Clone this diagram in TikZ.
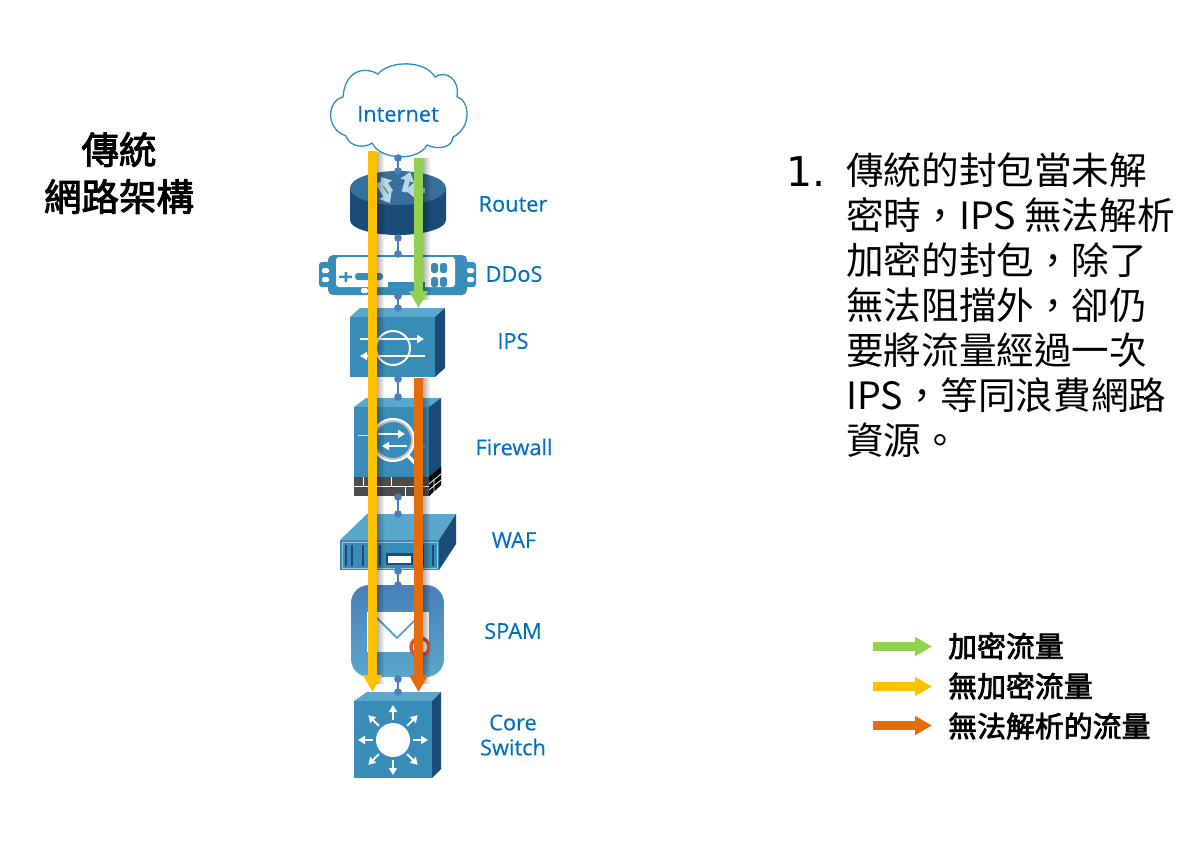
\documentclass[tikz,border=0pt]{standalone}
\usepackage{fontspec}
\setmainfont[FakeBold=0.25]{Open Sans}
\newfontfamily\cjkfont{Noto Sans CJK TC}
\newfontfamily\cjkmedium[FakeBold=2.6]{Noto Sans CJK TC}
\newfontfamily\numfont{DejaVu Sans}
\usetikzlibrary{arrows.meta,fadings,calc}
\definecolor{labelblue}{HTML}{0070C0}
\definecolor{cloudline}{HTML}{2A8FC5}
\definecolor{devfront}{HTML}{388DB8}
\definecolor{devtop}{HTML}{5BA7CC}
\definecolor{devside}{HTML}{1B4B78}
\definecolor{linkblue}{HTML}{4A7EBB}
\definecolor{greenflow}{HTML}{92D050}
\definecolor{yellowflow}{HTML}{FFC000}
\definecolor{orangeflow}{HTML}{E46C0A}
\definecolor{ringred}{HTML}{C9573D}
\tikzset{
  devlabel/.style={text=labelblue,font=\fontsize{21.8}{25}\selectfont,align=center,inner sep=0pt},
  link/.style={draw=linkblue,line width=1.6pt,shorten <=-3.75pt,shorten >=-3.75pt,{Circle[length=7.5pt,width=7.5pt]}-{Circle[length=7.5pt,width=7.5pt]}},
  flow/.style={line width=9pt,-{Triangle[length=17pt,width=18pt]}},
  keytext/.style={font=\cjkmedium\fontsize{28.9}{32}\selectfont,anchor=west,inner sep=0pt},
  whitearrow/.style={white,line width=2pt,-{Triangle[length=7pt,width=8pt]}},
  routerarrow/.style={white!65!devfront,line width=5pt,-{Triangle[length=9pt,width=14pt]}},
}
\begin{document}
\begin{tikzpicture}[x=1pt,y=-1pt,line join=round]
  \useasboundingbox[fill=white] (0,0) rectangle (1197,844);
  % title
  \node[font=\cjkmedium\fontsize{37.5}{47}\selectfont,align=center,inner sep=0pt] (title) at (119,173) {傳統\\網路架構};
  % cloud
  \draw[cloudline,line width=1.3pt,fill=white] (343,97) .. controls (328,100) and (324,128) .. (346,136)
    .. controls (350,148) and (366,148) .. (372,143)
    .. controls (380,160) and (418,162) .. (427,145)
    .. controls (438,150) and (452,148) .. (453,137)
    .. controls (472,128) and (470,100) .. (457,97)
    .. controls (460,78) and (445,70) .. (435,77)
    .. controls (425,60) and (390,60) .. (378,74)
    .. controls (365,66) and (345,70) .. (343,97) -- cycle;
  \node[devlabel] (internet) at (398,114) {Internet};
  % router
  \fill[devside] (350,188) -- (350,220) arc[x radius=48,y radius=15,start angle=180,end angle=0] -- (446,188) -- cycle;
  \fill[devtop!40!devside] (398,188) ellipse[x radius=48,y radius=17];
  \draw[routerarrow] (378,183) -- (390,203);
  \draw[routerarrow] (391,192) -- (381,177);
  \draw[routerarrow] (404,192) -- (410,172);
  \draw[routerarrow] (425,190) -- (405,190);
  % ddos
  \fill[devfront,rounded corners=3pt] (319,262) rectangle (476,287);
  \fill[devfront,rounded corners=5pt] (328,255) rectangle (467,295);
  \fill[white,rounded corners=3pt] (336,257) rectangle (455,287);
  \fill[devfront] (388,282) rectangle (425,288);
  \fill[white,rounded corners=1.5pt] (361,288) rectangle (368,293);
  \foreach \x/\y in {322/268,322/277,467/268,467/277}
    \fill[white,rounded corners=1.5pt] (\x,\y) rectangle +(7,5);
  \fill[devfront] (339,275.5) rectangle (352,278) (344.5,272) rectangle (347,282);
  \fill[devfront,rounded corners=3pt] (355,273) rectangle (383,280);
  \foreach \x/\y in {431/263,440/263,431/277,440/277}
    \fill[devfront,rounded corners=2.5pt] (\x,\y) rectangle +(7,10);
  % ips
  \fill[devtop] (350,317) -- (360,308) -- (445,308) -- (435,317) -- cycle;
  \fill[devside] (435,317) -- (445,308) -- (445,368) -- (435,377) -- cycle;
  \fill[devfront] (350,317) rectangle (435,377);
  \draw[white,line width=2pt] (393,348) circle[radius=17];
  \draw[whitearrow] (360,339) -- (424,339);
  \draw[whitearrow] (425,356) -- (360,356);
  % firewall
  \fill[devtop] (354,407) -- (366,398) -- (441,398) -- (429,407) -- cycle;
  \fill[devside] (429,407) -- (441,398) -- (441,485) -- (429,496) -- cycle;
  \fill[devfront] (354,407) rectangle (429,477);
  \fill[black] (429,477) -- (441,467) -- (441,485) -- (429,496) -- cycle;
  \draw[white,line width=.8pt] (429,484) -- (441,474) (429,490) -- (441,480) (434,479) -- (434,492);
  \fill[black!70] (354,477) rectangle (429,496);
  \draw[white,line width=1pt] (354,486.5) -- (429,486.5) (363,477) -- (363,486) (391,477) -- (391,486) (421,477) -- (421,486)
    (376,486) -- (376,496) (405,486) -- (405,496);
  \draw[devtop!30!white,line width=.7pt] (358,435) -- (418,435) (400,446) -- (425,446);
  \draw[black!25,line width=4pt,fill=devfront] (393,440) circle[radius=20];
  \draw[white,line width=2pt] (393,440) circle[radius=21];
  \draw[white,line width=3.5pt] (407,455) -- (417,465);
  \draw[whitearrow] (378,434) -- (405,434);
  \draw[whitearrow] (407,446) -- (382,446);
  % waf
  \fill[devtop] (340,540) -- (367,514) -- (456,514) -- (439,540) -- cycle;
  \fill[devside] (439,540) -- (456,514) -- (456,544) -- (439,570) -- cycle;
  \fill[devfront] (340,540) rectangle (439,570);
  \draw[white!50!devfront,line width=.7pt] (342,542) rectangle (437,568);
  \foreach \x in {346,352,363,380,423,433}
    \draw[devside,line width=2.5pt] (\x,545) -- (\x,566);
  \fill[devside] (386,553) rectangle (413,565);
  \fill[white] (388,556) rectangle (411,563);
  % spam
  \shade[top color=linkblue!90!devfront,bottom color=devtop,rounded corners=18pt] (351,585) rectangle (444,677);
  \fill[white] (367,612) rectangle (429,652);
  \draw[devfront!80!white,line width=2pt] (377,618) -- (397,638) -- (417,618);
  \draw[ringred,line width=3.5pt] (420,647) circle[radius=9];
  % core switch
  \fill[devtop] (354,701) -- (367,692) -- (441,692) -- (432,701) -- cycle;
  \fill[devside] (432,701) -- (441,692) -- (441,769) -- (432,778) -- cycle;
  \fill[devfront] (354,701) rectangle (432,778);
  \fill[white] (393,740) circle[radius=17];
  \foreach \a in {0,45,...,315}
    \draw[whitearrow] (393,740) ++(\a:20) -- ++(\a:15);
  % link ends
  \coordinate (internetbot) at (398,158);
  \coordinate (routertop) at (398,171);
  \coordinate (routerbot) at (398,238);
  \coordinate (ddostop) at (398,254);
  \coordinate (ddosbot) at (398,296);
  \coordinate (ipstop) at (398,308);
  \coordinate (ipsbot) at (398,379);
  \coordinate (fwtop) at (398,397);
  \coordinate (fwbot) at (398,497);
  \coordinate (waftop) at (398,514);
  \coordinate (wafbot) at (398,571);
  \coordinate (spamtop) at (398,585);
  \coordinate (spambot) at (398,679);
  \coordinate (coretop) at (398,692);
  \foreach \a/\b in {internetbot/routertop,routerbot/ddostop,ddosbot/ipstop,ipsbot/fwtop,fwbot/waftop,wafbot/spamtop,spambot/coretop}
    \draw[link] (\a) -- (\b);
  % labels
  \node[devlabel] (routerlabel) at (513,204) {Router};
  \node[devlabel] (ddoslabel) at (514,274) {DDoS};
  \node[devlabel] (ipslabel) at (513,341) {IPS};
  \node[devlabel] (fwlabel) at (514,447) {Firewall};
  \node[devlabel] (waflabel) at (514,540) {WAF};
  \node[devlabel] (spamlabel) at (513,631) {SPAM};
  \node[devlabel] (corelabel) at (513,735) {Core\\Switch};
  % flows
  \coordinate (ystart) at (372.5,151);
  \coordinate (yend) at (372.5,692);
  \coordinate (gstart) at (418.5,158);
  \coordinate (gend) at (418.5,308);
  \coordinate (ostart) at (418.5,378);
  \coordinate (oend) at (418.5,692);
  \foreach \s/\e/\c in {ystart/yend/yellowflow,gstart/gend/greenflow,ostart/oend/orangeflow}{
    \fill[black,opacity=.3,path fading=east] ($(\s)+(4.5,0)$) rectangle ($(\e)+(12,-8)$);
    \draw[flow,\c] (\s) -- (\e);
  }
  % text
  \node[font=\numfont\fontsize{41}{45}\selectfont,anchor=base west,inner sep=0pt] (num) at (786,186) {1.};
  \node[font=\cjkfont\fontsize{37.6}{45}\selectfont,anchor=north west,align=left,inner sep=0pt] (body) at (846,153)
    {傳統的封包當未解\\密時，IPS 無法解析\\加密的封包，除了\\無法阻擋外，卻仍\\要將流量經過一次\\IPS，等同浪費網路\\資源。};
  % legend
  \coordinate (ka) at (873,646.5);
  \coordinate (kb) at (932,646.5);
  \coordinate (kc) at (873,686.5);
  \coordinate (kd) at (932,686.5);
  \coordinate (ke) at (873,725.5);
  \coordinate (kf) at (932,725.5);
  \draw[flow,greenflow] (ka) -- (kb);
  \draw[flow,yellowflow] (kc) -- (kd);
  \draw[flow,orangeflow] (ke) -- (kf);
  \node[keytext] (keya) at (948,646) {加密流量};
  \node[keytext] (keyb) at (948,686) {無加密流量};
  \node[keytext] (keyc) at (948,726) {無法解析的流量};
\end{tikzpicture}
\end{document}
